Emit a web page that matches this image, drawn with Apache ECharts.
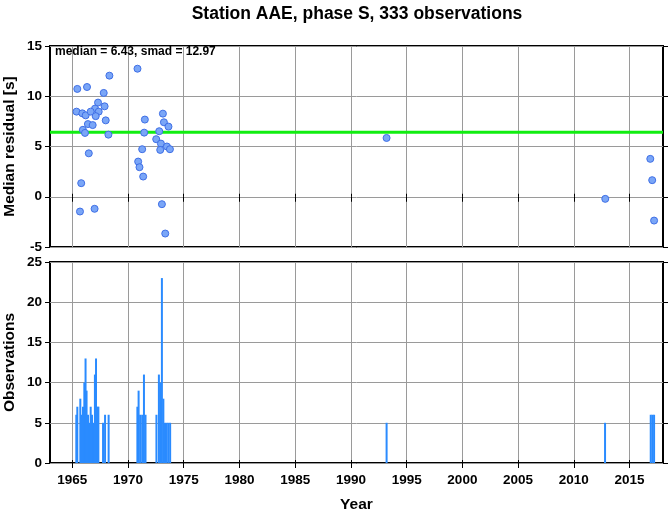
<!DOCTYPE html>
<html>
<head>
<meta charset="utf-8">
<script src="https://cdn.jsdelivr.net/npm/echarts@6/dist/echarts.min.js"></script>
<style>html,body{margin:0;padding:0;background:#fff}#c{width:669px;height:511px}</style>
</head>
<body>
<div id="c"></div>
<script>
// ---- data ----
const xTickValues = [1965, 1970, 1975, 1980, 1985, 1990, 1995, 2000, 2005, 2010, 2015];
const resYears = [1965.45, 1966.32, 1968.33, 1967.82, 1967.31, 1967.90, 1967.04, 1965.38, 1965.90, 1966.20,
  1966.65, 1967.37, 1967.10, 1968.00, 1966.40, 1966.83, 1965.95, 1966.14, 1968.24, 1966.48,
  1965.80, 1965.69, 1967.00,
  1970.85, 1973.13, 1971.51, 1973.22, 1973.63, 1971.45, 1972.80, 1972.53, 1972.95, 1973.49,
  1973.76, 1972.89, 1971.27, 1970.91, 1971.03, 1971.36, 1973.04, 1973.34,
  1993.20, 2012.82, 2016.86, 2017.03, 2017.20];
const resValues = [10.73, 10.92, 12.05, 10.33, 9.37, 9.00, 8.77, 8.47, 8.30, 8.10,
  8.47, 8.47, 8.02, 7.60, 7.23, 7.13, 6.66, 6.35, 6.18, 4.32,
  1.35, -1.47, -1.20,
  12.74, 8.27, 7.68, 7.41, 6.98, 6.38, 6.52, 5.73, 5.29, 5.00,
  4.73, 4.66, 4.73, 3.50, 2.94, 2.01, -0.74, -3.66,
  5.85, -0.21, 3.77, 1.65, -2.37];
const medianValue = 6.43;
const obsYears = [1965.36, 1965.45, 1965.72, 1965.85, 1965.96, 1966.08, 1966.19, 1966.28, 1966.41, 1966.53,
  1966.65, 1966.77, 1966.90, 1967.03, 1967.13, 1967.27, 1967.34, 1967.76, 1967.94, 1968.26,
  1970.84, 1970.95, 1971.09, 1971.27, 1971.43, 1971.57,
  1972.55, 1972.77, 1972.90, 1973.04, 1973.17, 1973.32, 1973.47, 1973.62, 1973.78,
  1993.20, 2012.80, 2016.90, 2017.05, 2017.20];
const obsCounts = [6, 7, 8, 6, 7, 10, 13, 9, 6, 5,
  7, 6, 5, 11, 13, 7, 7, 5, 6, 6,
  7, 9, 6, 6, 11, 6,
  6, 11, 10, 23, 8, 5, 5, 5, 5,
  5, 5, 6, 6, 6];
const titleText = 'Station AAE, phase S, 333 observations';
const annotText = 'median = 6.43, smad = 12.97';

// ---- chart ----
const FONT = '"Liberation Sans", Arial, Helvetica, sans-serif';
const chart = echarts.init(document.getElementById('c'), null, {renderer: 'canvas'});

function xAx(grid, pos, labels, name) {
  return {
    type: 'value', gridIndex: grid, position: pos, min: 1963, max: 2018,
    axisLine: {show: false},
    axisTick: {show: true, customValues: xTickValues, length: pos === 'top' ? 3 : 5, lineStyle: {color: '#000', width: 1}},
    axisLabel: {show: labels, customValues: xTickValues, margin: 10, color: '#000', fontFamily: FONT, fontWeight: 'bold', fontSize: 13.5,
      formatter: v => String(v)},
    splitLine: {show: pos === 'bottom', lineStyle: {color: '#9a9a9a', width: 1}},
    name: name || '', nameLocation: 'middle', nameGap: 34, nameMoveOverlap: false,
    nameTextStyle: {color: '#000', fontFamily: FONT, fontWeight: 'bold', fontSize: 15.5}
  };
}
function yAx(grid, pos, min, max, name) {
  const left = pos === 'left';
  return {
    type: 'value', gridIndex: grid, position: pos, min: min, max: max, interval: 5,
    axisLine: {show: false},
    axisTick: {show: true, length: 5, lineStyle: {color: '#000', width: 1}},
    axisLabel: {show: left, margin: 8, color: '#000', fontFamily: FONT, fontWeight: 'bold', fontSize: 13.5},
    splitLine: {show: left, lineStyle: {color: '#9a9a9a', width: 1}},
    name: left ? name : '', nameLocation: 'middle', nameGap: 32, nameMoveOverlap: false,
    nameTextStyle: {color: '#000', fontFamily: FONT, fontWeight: 'bold', fontSize: 15.5}
  };
}

chart.setOption({
  animation: false,
  backgroundColor: '#fff',
  title: [
    {text: titleText, left: 352, top: 0, textAlign: 'center',
     textStyle: {fontFamily: FONT, fontWeight: 'bold', fontSize: 17.5, color: '#000'}},
    {text: annotText, left: 53, top: 44, padding: [2, 2],
     textStyle: {fontFamily: FONT, fontWeight: 'bold', fontSize: 12, color: '#000'}}
  ],
  grid: [
    {left: 50, top: 46, width: 613, height: 201, show: true, borderColor: '#000', borderWidth: 2,
     backgroundColor: 'transparent', containLabel: false, outerBoundsMode: 'none'},
    {left: 50, top: 262, width: 613, height: 201, show: true, borderColor: '#000', borderWidth: 2,
     backgroundColor: 'transparent', containLabel: false, outerBoundsMode: 'none'}
  ],
  xAxis: [
    xAx(0, 'bottom', false),
    xAx(0, 'top', false),
    xAx(1, 'bottom', true, 'Year'),
    xAx(1, 'top', false)
  ],
  yAxis: [
    yAx(0, 'left', -5, 15, 'Median residual [s]'),
    yAx(0, 'right', -5, 15),
    yAx(1, 'left', 0, 25, 'Observations'),
    yAx(1, 'right', 0, 25)
  ],
  series: [
    {
      type: 'line', xAxisIndex: 0, yAxisIndex: 0, silent: true,
      data: [[1963, medianValue], [2018, medianValue]],
      symbol: 'none', lineStyle: {color: '#11ee11', width: 3}, z: 2
    },
    {
      type: 'scatter', xAxisIndex: 0, yAxisIndex: 0,
      data: resYears.map((y, i) => [y, resValues[i]]),
      symbol: 'circle', symbolSize: 7,
      itemStyle: {color: '#7aa6f7', borderColor: '#3f6fe6', borderWidth: 1, opacity: 1}, z: 3
    },
    {
      type: 'bar', xAxisIndex: 2, yAxisIndex: 2,
      data: obsYears.map((y, i) => [y, obsCounts[i]]),
      barWidth: 2, itemStyle: {color: '#2a8bff'}
    }
  ]
});
</script>
</body>
</html>
